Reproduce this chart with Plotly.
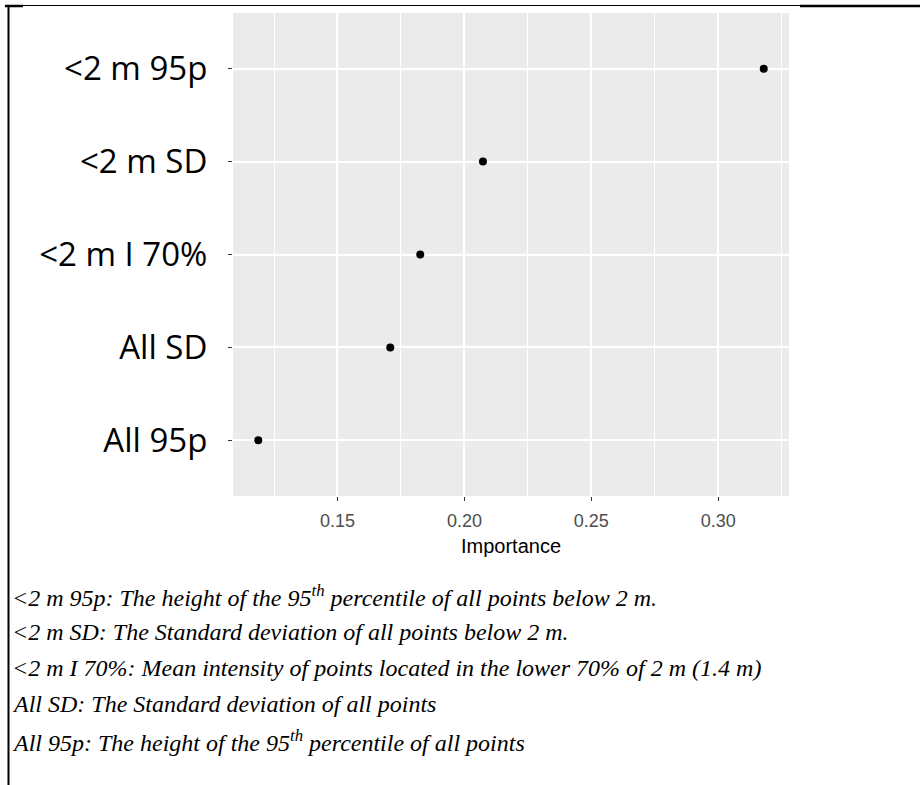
import plotly.graph_objects as go

# ---- data ----
features = ["All 95p", "All SD", "<2 m I 70%", "<2 m SD", "<2 m 95p"]
importance = [0.1188, 0.1708, 0.1826, 0.2073, 0.3179]
x_ticks = [0.15, 0.20, 0.25, 0.30]
x_tick_labels = ["0.15", "0.20", "0.25", "0.30"]
x_minor = [0.125, 0.175, 0.225, 0.275, 0.325]
captions = [
    "&lt;2 m 95p: The height of the 95<sup>th</sup> percentile of all points below 2 m.",
    "&lt;2 m SD: The Standard deviation of all points below 2 m.",
    "&lt;2 m I 70%: Mean intensity of points located in the lower 70% of 2 m (1.4 m)",
    "All SD: The Standard deviation of all points",
    "All 95p: The height of the 95<sup>th</sup> percentile of all points",
]

W, H = 920, 785
L, R, T, B = 233, 789, 13, 496  # panel pixel box


def px_x(p):
    return (p - L) / (R - L)


def px_y(p):
    return (B - p) / (B - T)


xmin = min(importance) - 0.05 * (max(importance) - min(importance))
xmax = max(importance) + 0.05 * (max(importance) - min(importance))

fig = go.Figure()
fig.add_trace(go.Scatter(
    x=importance, y=features, mode="markers",
    marker=dict(color="black", size=8),
    showlegend=False, hoverinfo="x+y",
))

fig.update_layout(
    width=W, height=H, autosize=False,
    margin=dict(l=L, r=W - R, t=T, b=H - B, pad=0),
    paper_bgcolor="white", plot_bgcolor="#EBEBEB",
    xaxis=dict(
        range=[xmin, xmax], tickvals=x_ticks, ticktext=x_tick_labels,
        showgrid=True, gridcolor="white", gridwidth=1.8, zeroline=False,
        ticks="outside", ticklen=4, tickcolor="#333333", tickwidth=1.2,
        tickfont=dict(family="Liberation Sans, Arial", size=18, color="#4D4D4D"),
        ticklabelstandoff=4,
        minor=dict(tickmode="array", tickvals=x_minor, showgrid=True,
                   gridcolor="white", gridwidth=0.9, ticks=""),
        title=dict(text="Importance", standoff=9,
                   font=dict(family="Liberation Sans, Arial", size=20, color="black")),
        showline=False,
    ),
    yaxis=dict(
        categoryorder="array", categoryarray=features,
        tickvals=features, ticktext=[f.replace("<", "&lt;") for f in features],
        range=[-0.6, len(features) - 0.4],
        showgrid=True, gridcolor="white", gridwidth=1.8, zeroline=False,
        ticks="outside", ticklen=4, tickcolor="#333333", tickwidth=1.2,
        tickfont=dict(family="Open Sans, Noto Sans", size=33, color="black"),
        ticklabelstandoff=14,
        showline=False,
    ),
)

# caption lines below the chart
cap_y = [596, 632, 668, 704, 741]
for txt, yy in zip(captions, cap_y):
    fig.add_annotation(
        text=txt, xref="paper", yref="paper",
        x=px_x(10), y=px_y(yy), xanchor="left", yanchor="middle",
        showarrow=False,
        font=dict(family="Liberation Serif, Times New Roman", size=24,
                  color="black", style="italic"),
    )

# frame lines of the figure box
fig.add_shape(type="line", xref="paper", yref="paper",
              x0=px_x(8), x1=px_x(800), y0=px_y(5.5), y1=px_y(5.5),
              line=dict(color="black", width=1.2))
fig.add_shape(type="line", xref="paper", yref="paper",
              x0=px_x(800), x1=px_x(920), y0=px_y(6), y1=px_y(6),
              line=dict(color="black", width=2.5))
fig.add_shape(type="line", xref="paper", yref="paper",
              x0=px_x(5), x1=px_x(23), y0=px_y(6), y1=px_y(6),
              line=dict(color="black", width=2.5))
fig.add_shape(type="line", xref="paper", yref="paper",
              x0=px_x(8.5), x1=px_x(8.5), y0=px_y(5), y1=px_y(785),
              line=dict(color="black", width=2))

fig.write_html("out.html")
